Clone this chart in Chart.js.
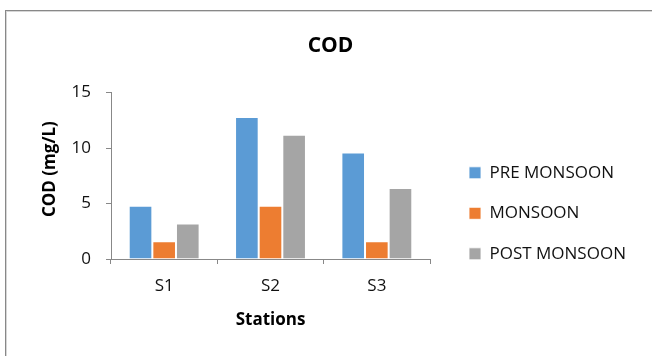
<!DOCTYPE html>
<html>
<head>
<meta charset="utf-8">
<script src="https://cdn.jsdelivr.net/npm/chart.js@4.4.1/dist/chart.umd.min.js"></script>
<style>
  html, body { margin: 0; padding: 0; background: #fff; }
  body { width: 652px; height: 356px; position: relative; overflow: hidden; }
  #frame { position: absolute; left: 5px; top: 10px; width: 700px; height: 400px;
           border-left: 1px solid #888; border-top: 1px solid #888;
           box-shadow: inset 1px 1px 0 #d6d6d6; }
  #c { position: absolute; left: 0; top: 0; }
</style>
</head>
<body>
<div id="frame"></div>
<canvas id="c" width="652" height="356"></canvas>
<script>
// ---- data ----
const categories = ['S1', 'S2', 'S3'];
const seriesNames = ['PRE MONSOON', 'MONSOON', 'POST MONSOON'];
const preMonsoon = [4.8, 12.8, 9.6];
const monsoon = [1.6, 4.8, 1.6];
const postMonsoon = [3.2, 11.2, 6.4];
const yTicks = [0, 5, 10, 15];
const chartTitle = 'COD';
const yTitle = 'COD (mg/L)';
const xTitle = 'Stations';

// ---- styling / layout targets ----
const colors = ['#5B9BD5', '#ED7D31', '#A5A5A5'];
const FONT = '"Open Sans", "Liberation Sans", sans-serif';
const AREA_LEFT = 111, AREA_RIGHT = 430, AREA_BOTTOM = 259;
const LEG_PAD = 23.5, LEG_BOX_X = 469;
const TITLE_CX = 330.5, YTITLE_CX = 50;
let padL = 35, padR = 26;

const seriesValues = [preMonsoon, monsoon, postMonsoon];
const datasets = seriesNames.map((name, i) => ({
  label: name,
  data: seriesValues[i],
  backgroundColor: colors[i],
  borderColor: 'rgba(255,255,255,0.85)',
  borderWidth: 1,
  categoryPercentage: 0.6667,
  barPercentage: 1.0,
  yAxisID: 'y',
  xAxisID: 'x'
}));

const chart = new Chart(document.getElementById('c'), {
  type: 'bar',
  data: { labels: categories, datasets },
  options: {
    responsive: false,
    animation: false,
    devicePixelRatio: 1,
    layout: { padding: { left: padL, right: padR, top: 0, bottom: 0 } },
    plugins: {
      title: {
        display: true, text: chartTitle, color: '#000',
        font: { family: FONT, size: 21, weight: 'bold' },
        padding: { top: 33, bottom: 34.3 }
      },
      legend: {
        position: 'right', align: 'start', maxWidth: 400,
        title: { display: true, text: ' ', font: { size: 10 }, padding: { top: 128.8, bottom: 0 } },
        labels: {
          boxWidth: 12, boxHeight: 12, padding: LEG_PAD,
          color: '#111', font: { family: FONT, size: 17 }
        }
      },
      tooltip: { enabled: false }
    },
    scales: {
      y: {
        position: 'left', min: yTicks[0], max: yTicks[yTicks.length - 1],
        afterFit: s => { s.width = AREA_LEFT - padL; },
        grid: { display: true, drawOnChartArea: false, drawTicks: true, tickLength: 5, color: '#888', lineWidth: 1 },
        border: { display: true, color: '#888', width: 1 },
        ticks: {
          stepSize: yTicks[1] - yTicks[0],
          callback: v => (yTicks.includes(v) ? String(v) : ''),
          padding: 15, color: '#111', font: { family: FONT, size: 17 }
        },
        title: {
          display: true, text: '   ' + yTitle, color: '#000',
          font: { family: FONT, size: 17, weight: 'bold' },
          padding: { top: 5, bottom: 0 }
        }
      },
      sp: {
        type: 'linear', position: 'right', display: true,
        grid: { display: false, drawTicks: false }, border: { display: false },
        ticks: { display: false },
        afterFit: s => { s.width = LEG_BOX_X - LEG_PAD - AREA_RIGHT; }
      },
      x: {
        position: 'bottom',
        afterFit: s => { s.height = 356 - AREA_BOTTOM; },
        grid: { display: true, offset: true, drawOnChartArea: false, drawTicks: true, tickLength: 5, color: '#888', lineWidth: 1 },
        border: { display: true, color: '#888', width: 1 },
        ticks: { padding: 12, color: '#111', font: { family: FONT, size: 17 } },
        title: {
          display: true, text: xTitle, color: '#000',
          font: { family: FONT, size: 17, weight: 'bold' },
          padding: { top: 0, bottom: 25.8 }
        }
      }
    }
  }
});

// second pass: place legend / title precisely using measured legend width
const W = chart.legend.width;
padR = 652 - (LEG_BOX_X - LEG_PAD) - W;
padL = padR + 2 * TITLE_CX - 652;
chart.options.layout.padding = { left: padL, right: padR, top: 0, bottom: 0 };
chart.options.scales.y.title.padding = { top: YTITLE_CX - padL - 10.2, bottom: 0 };
chart.update('none');
</script>
</body>
</html>
